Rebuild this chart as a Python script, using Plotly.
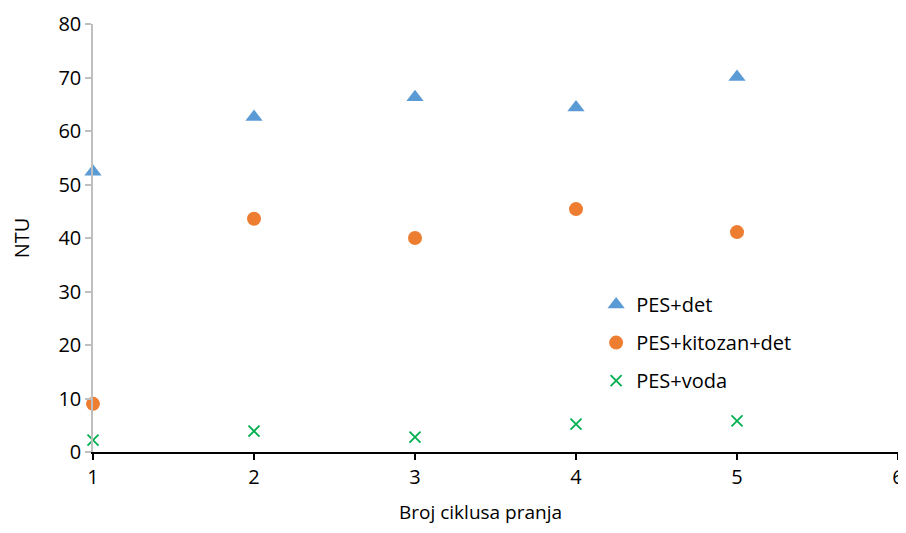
import plotly.graph_objects as go

cycles = [1, 2, 3, 4, 5]
pes_det = [52.4, 62.6, 66.3, 64.4, 70.1]
pes_kitozan_det = [9.0, 43.6, 40.0, 45.4, 41.1]
pes_voda = [2.2, 3.9, 2.8, 5.2, 5.8]

x_ticks = [1, 2, 3, 4, 5, 6]
y_ticks = [0, 10, 20, 30, 40, 50, 60, 70, 80]

FONT = "Open Sans"

fig = go.Figure()
fig.add_trace(go.Scatter(x=cycles, y=pes_det, mode="markers", name="PES+det",
                         legendgroup="a",
                         marker=dict(symbol="triangle-up", size=15, color="#5B9BD5"),
                         cliponaxis=False))
fig.add_trace(go.Scatter(x=cycles, y=pes_kitozan_det, mode="markers", name="PES+kitozan+det",
                         legendgroup="b",
                         marker=dict(symbol="circle", size=14, color="#ED7D31"),
                         cliponaxis=False))
fig.add_trace(go.Scatter(x=cycles, y=pes_voda, mode="markers", name="PES+voda",
                         legendgroup="c",
                         marker=dict(symbol="x-thin", size=11, color="#00B050",
                                     line=dict(color="#00B050", width=1.8)),
                         cliponaxis=False))

fig.update_layout(
    width=898, height=517,
    margin=dict(l=85, r=8, t=16, b=73),
    paper_bgcolor="white", plot_bgcolor="white",
    font=dict(family=FONT, size=20, color="#000000"),
    showlegend=True,
    legend=dict(x=0.625, y=0.39, xanchor="left", yanchor="top",
                font=dict(family=FONT, size=20), tracegroupgap=9,
                bgcolor="rgba(0,0,0,0)", itemwidth=30),
    xaxis=dict(range=[1, 6], tickvals=x_ticks, showgrid=False, zeroline=False,
               automargin=False,
               showline=True, linecolor="#000000", linewidth=1.5,
               ticks="outside", ticklen=6, tickcolor="#000000", tickwidth=1.5,
               tickfont=dict(size=20), ticklabeloverflow="allow"),
    yaxis=dict(range=[0, 80], tickvals=y_ticks, showgrid=False, zeroline=False,
               automargin=False,
               showline=True, linecolor="#BFBFBF", linewidth=1.5,
               ticks="outside", ticklen=6, tickcolor="#BFBFBF", tickwidth=1.5,
               tickfont=dict(size=20),
               title=dict(text="NTU", font=dict(size=20), standoff=24)),
    annotations=[dict(text="Broj ciklusa pranja", xref="paper", yref="paper",
                      x=0.481, y=0, xanchor="center", yanchor="top", yshift=-45,
                      showarrow=False, font=dict(family=FONT, size=19, color="#000000"))],
)

fig.write_html("out.html")
